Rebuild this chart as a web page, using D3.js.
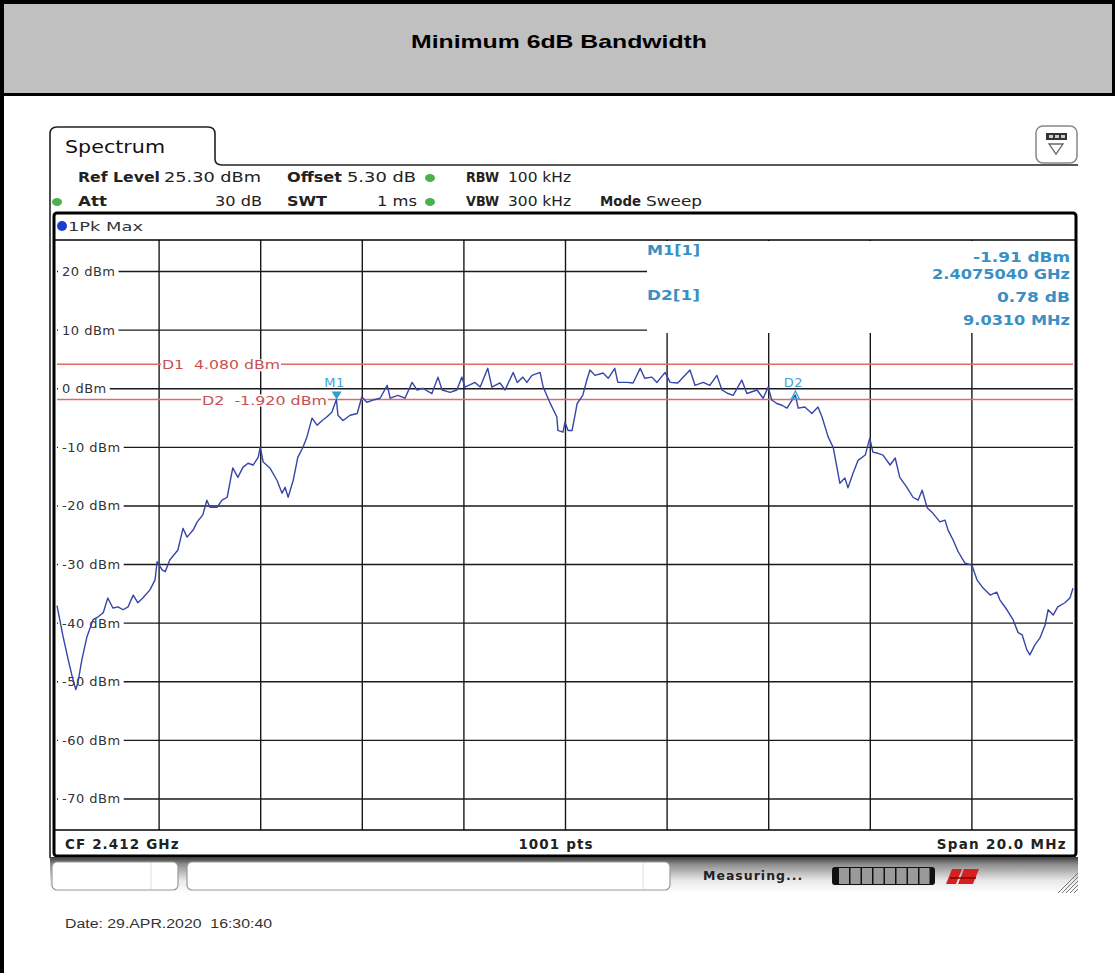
<!DOCTYPE html>
<html>
<head>
<meta charset="utf-8">
<script src="https://cdn.jsdelivr.net/npm/d3@7"></script>
<style>
  body { margin: 0; background: #fff; }
  svg { display: block; }
  text { white-space: pre; }
  .inst { font-family: "DejaVu Sans", Verdana, sans-serif; }
</style>
</head>
<body>
<script>
// spectrum trace (MHz, dBm)
var freqMHz = [2402.00, 2402.12, 2402.22, 2402.30, 2402.37, 2402.41, 2402.49, 2402.59, 2402.71, 2402.81,
  2402.91, 2403.00, 2403.10, 2403.20, 2403.30, 2403.40, 2403.50, 2403.59, 2403.69, 2403.83,
  2403.93, 2403.97, 2404.07, 2404.13, 2404.22, 2404.38, 2404.48, 2404.56, 2404.68, 2404.76,
  2404.87, 2404.95, 2405.01, 2405.15, 2405.25, 2405.35, 2405.46, 2405.56, 2405.66, 2405.76,
  2405.86, 2405.96, 2406.00, 2406.06, 2406.19, 2406.33, 2406.43, 2406.49, 2406.55, 2406.65,
  2406.74, 2406.84, 2406.92, 2407.02, 2407.12, 2407.22, 2407.31, 2407.41, 2407.50, 2407.53,
  2407.63, 2407.77, 2407.91, 2408.00, 2408.10, 2408.22, 2408.36, 2408.50, 2408.56, 2408.71,
  2408.85, 2408.99, 2409.09, 2409.20, 2409.38, 2409.50, 2409.58, 2409.74, 2409.87, 2409.97,
  2410.03, 2410.23, 2410.33, 2410.48, 2410.56, 2410.72, 2410.82, 2410.98, 2411.06, 2411.17,
  2411.25, 2411.35, 2411.51, 2411.57, 2411.70, 2411.84, 2411.86, 2411.96, 2412.00, 2412.06,
  2412.14, 2412.24, 2412.35, 2412.43, 2412.49, 2412.59, 2412.75, 2412.85, 2412.98, 2413.04,
  2413.22, 2413.34, 2413.48, 2413.57, 2413.71, 2413.81, 2413.97, 2414.07, 2414.22, 2414.46,
  2414.56, 2414.72, 2414.85, 2414.99, 2415.09, 2415.21, 2415.31, 2415.48, 2415.58, 2415.78,
  2415.90, 2416.00, 2416.07, 2416.17, 2416.27, 2416.37, 2416.535, 2416.59, 2416.72, 2416.86,
  2416.98, 2417.06, 2417.18, 2417.28, 2417.41, 2417.51, 2417.57, 2417.67, 2417.77, 2417.91,
  2418.00, 2418.06, 2418.16, 2418.26, 2418.40, 2418.50, 2418.59, 2418.73, 2418.85, 2418.95,
  2419.03, 2419.13, 2419.24, 2419.38, 2419.48, 2419.54, 2419.64, 2419.74, 2419.87, 2420.01,
  2420.11, 2420.23, 2420.37, 2420.50, 2420.56, 2420.70, 2420.82, 2420.92, 2421.00, 2421.09,
  2421.15, 2421.25, 2421.35, 2421.45, 2421.51, 2421.61, 2421.70, 2421.84, 2421.94, 2422.00];

var levelDbm = [-37.1, -42.4, -46.3, -49.2, -51.4, -50.3, -46.3, -42.4, -39.5, -39.0,
  -38.3, -35.8, -37.5, -37.3, -37.8, -37.3, -35.3, -36.6, -35.8, -34.4,
  -32.7, -29.6, -31.0, -31.3, -29.3, -27.6, -23.9, -25.4, -24.2, -22.8,
  -21.6, -19.1, -20.3, -20.3, -19.1, -18.6, -13.6, -15.2, -13.5, -12.8,
  -13.1, -11.8, -10.1, -12.6, -13.6, -15.7, -17.9, -16.9, -18.6, -15.7,
  -11.8, -10.1, -8.3, -5.1, -6.3, -5.5, -4.9, -4.1, -1.91, -4.6,
  -5.5, -4.6, -4.3, -1.5, -2.4, -2.0, -1.7, 0.5, -1.7, -1.2,
  -1.7, 1.0, -0.3, 0.0, -0.9, 1.9, -0.3, -0.7, -0.3, 1.9,
  0.2, 1.0, 0.2, 3.4, 0.2, 0.9, -0.3, 2.7, 1.0, 1.9,
  1.0, 2.2, 2.7, 0.2, -2.4, -4.9, -7.2, -7.5, -5.8, -7.2,
  -7.2, -2.6, -1.2, 1.4, 3.1, 2.2, 2.6, 1.7, 3.4, 1.0,
  1.0, 0.9, 3.4, 1.7, 1.9, 1.0, 2.7, 1.0, 0.9, 3.1,
  0.5, 1.0, 0.5, 2.2, -0.3, -0.9, -1.2, 1.4, -0.9, -0.3,
  -1.7, 0.2, -2.0, -2.6, -2.9, -3.4, -1.13, -3.4, -3.2, -4.3,
  -3.2, -4.9, -8.3, -10.1, -16.2, -15.3, -17.0, -14.5, -12.3, -11.4,
  -8.5, -10.9, -11.1, -11.4, -13.1, -11.9, -15.2, -16.9, -18.6, -19.1,
  -17.4, -20.4, -21.3, -22.8, -22.5, -24.2, -25.9, -27.9, -29.8, -30.2,
  -32.7, -34.1, -35.3, -34.8, -36.1, -37.8, -39.5, -41.7, -42.1, -44.6,
  -45.5, -43.8, -42.6, -40.4, -37.8, -38.7, -37.3, -36.6, -35.8, -34.1];

var levelTicks = [20, 10, 0, -10, -20, -30, -40, -50, -60, -70];
var freqTicks = [2404, 2406, 2408, 2410, 2412, 2414, 2416, 2418, 2420];

// display lines D1 / D2
var lineNames = ["D1", "D2"];
var lineValues = [4.08, -1.92];

// markers
var markerNames = ["M1", "D2"];
var markerFreq = [2407.504, 2416.535];
var markerLevel = [-1.91, -1.13];

var markerInfo = [["M1[1]", "-1.91 dBm", "2.4075040 GHz"], ["D2[1]", "0.78 dB", "9.0310 MHz"]];

var W = 1115, H = 973;
var plotL = 57, plotR = 1073, plotT = 240, plotB = 826;

var svg = d3.select("body").append("svg")
  .attr("width", W)
  .attr("height", H);

var defs = svg.append("defs");
var grad = defs.append("linearGradient").attr("id", "bar").attr("x1", 0).attr("y1", 0).attr("x2", 0).attr("y2", 1);
grad.append("stop").attr("offset", "0").attr("stop-color", "#3a3a3a");
grad.append("stop").attr("offset", "0.2").attr("stop-color", "#8c8c8c");
grad.append("stop").attr("offset", "0.65").attr("stop-color", "#e8e8e8");
grad.append("stop").attr("offset", "1").attr("stop-color", "#ffffff");

// page frame + header
svg.append("rect").attr("x", 0).attr("y", 0).attr("width", W).attr("height", 95).attr("fill", "#c0c0c0");
svg.append("rect").attr("x", 0).attr("y", 0).attr("width", W).attr("height", 4).attr("fill", "#000");
svg.append("rect").attr("x", 0).attr("y", 93).attr("width", W).attr("height", 3).attr("fill", "#000");
svg.append("rect").attr("x", 0).attr("y", 0).attr("width", 4).attr("height", H).attr("fill", "#000");
svg.append("rect").attr("x", W - 3).attr("y", 0).attr("width", 3).attr("height", 96).attr("fill", "#000");

svg.append("text")
  .attr("x", 411).attr("y", 48)
  .attr("textLength", 296)
  .attr("lengthAdjust", "spacingAndGlyphs")
  .style("font-family", "Arial, 'Liberation Sans', sans-serif")
  .style("font-weight", "bold")
  .style("font-size", "18.5px")
  .text("Minimum 6dB Bandwidth");

function txt(x, y, s, o) {
  o = o || {};
  var t = svg.append("text")
    .attr("class", "inst")
    .attr("x", x).attr("y", y)
    .attr("text-anchor", o.anchor || "start")
    .style("font-size", (o.size || 13.5) + "px")
    .style("font-weight", o.bold ? "bold" : "normal")
    .attr("fill", o.color || "#222")
    .text(s);
  if (o.len) {
    t.attr("textLength", o.len).attr("lengthAdjust", "spacingAndGlyphs");
  } else {
    t.style("letter-spacing", (o.ls == null ? 0.9 : o.ls) + "px");
  }
  return t;
}

// spectrum tab outline
svg.append("path")
  .attr("d", "M50,858 L50,134 Q50,127 57,127 L208,127 Q215,127 215,134 L215,159 Q215,165 222,165 L1078,165")
  .attr("fill", "none").attr("stroke", "#222").attr("stroke-width", 1.6);
txt(65, 153, "Spectrum", { size: 18.5, len: 100, color: "#111" });

// settings button top right
svg.append("rect").attr("x", 1036).attr("y", 126).attr("width", 41).attr("height", 37).attr("rx", 7)
  .attr("fill", "#fff").attr("stroke", "#888").attr("stroke-width", 1.5);
svg.append("rect").attr("x", 1046).attr("y", 133).attr("width", 21).attr("height", 7).attr("fill", "#333");
[1049, 1055, 1061].forEach(function (px) {
  svg.append("rect").attr("x", px).attr("y", 135).attr("width", 4).attr("height", 3).attr("fill", "#ccc");
});
svg.append("path").attr("d", "M1049,144 L1063,144 L1056,154 Z").attr("fill", "none").attr("stroke", "#666").attr("stroke-width", 1.3);

// settings rows
function dot(cx, cy, c) {
  svg.append("ellipse").attr("cx", cx).attr("cy", cy).attr("rx", 5).attr("ry", 4).attr("fill", c || "#4caf50");
}
txt(78, 182, "Ref Level", { bold: true, size: 14, len: 82 });
txt(164, 182, "25.30 dBm", { size: 14, len: 97 });
txt(287, 182, "Offset", { bold: true, size: 14, len: 55 });
txt(347, 182, "5.30 dB", { size: 14, len: 69 });
dot(430, 178);
txt(466, 182, "RBW", { bold: true, size: 14, len: 33 });
txt(508, 182, "100 kHz", { size: 14, len: 63 });

dot(57, 202);
txt(78, 206, "Att", { bold: true, size: 14, len: 29 });
txt(215, 206, "30 dB", { size: 14, len: 47 });
txt(287, 206, "SWT", { bold: true, size: 14, len: 40 });
txt(377, 206, "1 ms", { size: 14, len: 40 });
dot(430, 202);
txt(466, 206, "VBW", { bold: true, size: 14, len: 33 });
txt(508, 206, "300 kHz", { size: 14, len: 63 });
txt(600, 206, "Mode", { bold: true, size: 14, len: 41 });
txt(646, 206, "Sweep", { size: 14, len: 56 });

// graph frame
svg.append("rect").attr("x", 54).attr("y", 213).attr("width", 1022).attr("height", 643).attr("rx", 3)
  .attr("fill", "#fff").attr("stroke", "#000").attr("stroke-width", 3);
svg.append("circle").attr("cx", 62).attr("cy", 226).attr("r", 5).attr("fill", "#1a3fd0");
txt(68, 231, "1Pk Max", { size: 13, len: 75, color: "#333" });

var x = d3.scaleLinear().domain([2402, 2422]).range([plotL, plotR]);
var y = d3.scaleLinear().domain([-74.7, 25.3]).range([plotB, plotT]);

// grid
var grid = svg.append("g");
grid.append("g")
  .attr("transform", "translate(0," + (plotB + 4) + ")")
  .call(d3.axisTop(x).tickValues(freqTicks).tickSize(plotB + 4 - plotT).tickFormat(""))
  .call(function (g) { g.select(".domain").remove(); })
  .selectAll("line").attr("stroke", "#1a1a1a").attr("stroke-width", 1.4);
grid.append("g")
  .attr("transform", "translate(" + plotL + ",0)")
  .call(d3.axisRight(y).tickValues(levelTicks).tickSize(plotR - plotL).tickFormat(""))
  .call(function (g) { g.select(".domain").remove(); })
  .selectAll("line").attr("stroke", "#1a1a1a").attr("stroke-width", 1.4);

svg.append("line").attr("x1", plotL - 2).attr("x2", plotR + 2).attr("y1", plotT).attr("y2", plotT)
  .attr("stroke", "#000").attr("stroke-width", 1.6);
svg.append("line").attr("x1", plotL - 2).attr("x2", plotR + 2).attr("y1", plotB + 4).attr("y2", plotB + 4)
  .attr("stroke", "#000").attr("stroke-width", 1.6);

// marker info box hides grid top right
svg.append("rect").attr("x", 647).attr("y", plotT + 1).attr("width", plotR - 647).attr("height", 92).attr("fill", "#fff");

// level labels
levelTicks.forEach(function (v) {
  var t = txt(62, y(v) + 5, v + " dBm", { size: 13, ls: 0.5, color: "#333" });
  var b = t.node().getBBox();
  svg.insert("rect", function () { return t.node(); })
    .attr("x", plotL + 1).attr("y", b.y + 1).attr("width", b.x + b.width + 3 - plotL - 1).attr("height", b.height - 2).attr("fill", "#fff");
});

// display lines
var dLabelX = [162, 202];
var dLabelLen = [118, 125];
lineValues.forEach(function (v, i) {
  svg.append("line").attr("x1", plotL).attr("x2", plotR).attr("y1", y(v)).attr("y2", y(v))
    .attr("stroke", "#e06a6a").attr("stroke-width", 1.5);
  var t = txt(dLabelX[i], y(v) + 5, lineNames[i] + "  " + v.toFixed(3) + " dBm", { size: 13, len: dLabelLen[i], color: "#c85050" });
  var b = t.node().getBBox();
  svg.insert("rect", function () { return t.node(); })
    .attr("x", b.x - 1).attr("y", b.y + 2).attr("width", b.width + 2).attr("height", b.height - 3).attr("fill", "#fff");
});

// trace
var pts = freqMHz.map(function (f, i) { return [f, levelDbm[i]]; });
svg.append("path")
  .datum(pts)
  .attr("fill", "none")
  .attr("stroke", "#3545a8")
  .attr("stroke-width", 1.4)
  .attr("stroke-linejoin", "round")
  .attr("d", d3.line().x(function (d) { return x(d[0]); }).y(function (d) { return y(d[1]); }));

// markers
markerNames.forEach(function (m, i) {
  var mx = x(markerFreq[i]), my = y(markerLevel[i]);
  if (i === 0) {
    svg.append("path").attr("d", "M" + (mx - 5) + "," + (my - 8) + " L" + (mx + 5) + "," + (my - 8) + " L" + mx + "," + my + " Z")
      .attr("fill", "#2a9fd0");
    txt(mx - 2, my - 12, m, { anchor: "middle", size: 13, ls: 0.6, color: "#45a3d3" });
  } else {
    svg.append("path").attr("d", "M" + (mx - 4) + "," + (my + 4) + " L" + (mx + 4) + "," + (my + 4) + " L" + mx + "," + (my - 4) + " Z")
      .attr("fill", "none").attr("stroke", "#45a3d3").attr("stroke-width", 1.3);
    txt(mx - 2, my - 8, m, { anchor: "middle", size: 13, ls: 0.6, color: "#45a3d3" });
  }
});

// marker info text: [start x, baseline, width]
var infoPos = [
  [[647, 255, 53], [973, 262, 97], [932, 279, 138]],
  [[647, 300, 53], [997, 302, 73], [963, 325, 107]]
];
markerInfo.forEach(function (r, i) {
  r.forEach(function (s, j) {
    var p = infoPos[i][j];
    txt(p[0], p[1], s, { bold: true, size: 14, len: p[2], color: "#3a8fc4" });
  });
});

// bottom row
txt(65, 849, "CF 2.412 GHz", { bold: true, size: 13.5, ls: 1.1 });
txt(556, 849, "1001 pts", { bold: true, size: 13.5, ls: 1.1, anchor: "middle" });
txt(1067, 849, "Span 20.0 MHz", { bold: true, size: 13.5, ls: 1.3, anchor: "end" });

// status bar
svg.append("rect").attr("x", 50).attr("y", 857).attr("width", 1028).attr("height", 36).attr("fill", "url(#bar)");
svg.append("rect").attr("x", 52).attr("y", 862).attr("width", 126).attr("height", 28).attr("rx", 5)
  .attr("fill", "#fff").attr("stroke", "#999").attr("stroke-width", 1.2);
svg.append("line").attr("x1", 151).attr("x2", 151).attr("y1", 863).attr("y2", 889).attr("stroke", "#ddd");
svg.append("rect").attr("x", 187).attr("y", 862).attr("width", 483).attr("height", 28).attr("rx", 5)
  .attr("fill", "#fff").attr("stroke", "#999").attr("stroke-width", 1.2);
svg.append("line").attr("x1", 643).attr("x2", 643).attr("y1", 863).attr("y2", 889).attr("stroke", "#ddd");
txt(703, 880, "Measuring...", { bold: true, size: 12.5, ls: 1, color: "#222" });

svg.append("rect").attr("x", 832).attr("y", 867).attr("width", 103).attr("height", 18).attr("rx", 3).attr("fill", "#111");
d3.range(8).forEach(function (k) {
  svg.append("rect").attr("x", 839 + k * 11.5).attr("y", 868).attr("width", 10).attr("height", 16).attr("fill", "#9a9a9a");
});
svg.append("path").attr("d", "M946,884 L952,869 L962,869 L956,884 Z M958,884 L964,869 L979,869 L973,884 Z")
  .attr("fill", "#d42020");
svg.append("path").attr("d", "M950,878 L976,878").attr("stroke", "#8a0000").attr("stroke-width", 1.5);
d3.range(5).forEach(function (k) {
  svg.append("line").attr("x1", 1058 + k * 4).attr("y1", 893).attr("x2", 1078).attr("y2", 873 + k * 4)
    .attr("stroke", "#777").attr("stroke-width", 1);
});

// date line
svg.append("text")
  .attr("x", 65).attr("y", 928)
  .attr("textLength", 207)
  .attr("lengthAdjust", "spacingAndGlyphs")
  .style("font-family", "Arial, 'Liberation Sans', sans-serif")
  .style("font-size", "12.5px")
  .attr("fill", "#333")
  .text("Date: 29.APR.2020  16:30:40");
</script>
</body>
</html>
